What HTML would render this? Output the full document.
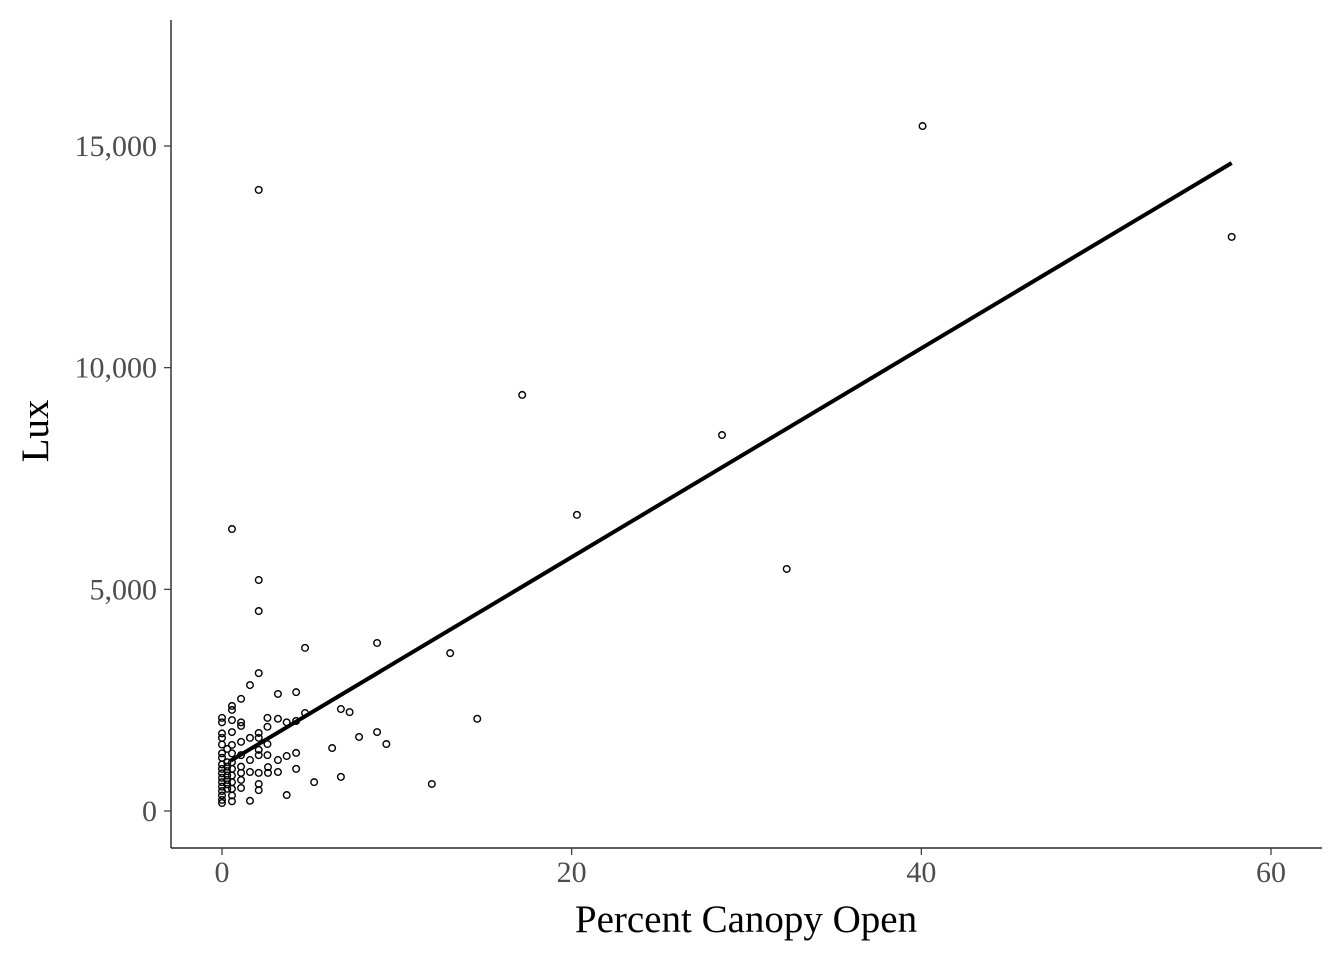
<!DOCTYPE html>
<html><head><meta charset="utf-8"><style>
body{margin:0;background:#fff;}
svg{display:block;font-family:"Liberation Serif",serif;}
</style></head><body>
<svg id="chart" width="1344" height="960" xmlns="http://www.w3.org/2000/svg"></svg>
<script>
const xValues=[2.1,40.07,57.75,17.17,28.6,20.3,32.3,0.57,2.1,2.1,4.75,8.87,13.05,14.6,12.0,2.1,1.6,1.09,3.2,4.24,4.75,6.8,7.3,7.84,8.87,9.4,6.3,4.24,3.7,4.24,6.8,5.27,3.7,3.2,3.2,2.63,2.63,2.6,2.6,2.1,2.1,2.6,2.6,3.2,3.7,4.24,2.1,2.1,2.1,2.1,2.1,1.6,1.6,1.6,1.6,1.09,1.09,1.09,1.09,1.09,1.09,1.09,1.09,0.57,0.57,0.57,0.57,0.57,0.57,0.57,0.57,0.57,0.57,0.57,0.57,0.57,0,0,0,0,0,0,0,0,0,0,0,0,0,0,0,0,0,0.3,0.3,0.3,0.3,0.3,0.3,0.3,0.3];
const yValues=[14010,15450,12950,9385,8480,6680,5460,6360,5210,4510,3680,3790,3560,2080,610,3110,2840,2530,2640,2680,2210,2300,2230,1670,1780,1510,1420,1310,1240,950,770,650,360,880,1150,990,860,1260,1510,1760,1650,1900,2100,2080,2000,2030,1380,1260,860,610,470,230,880,1150,1650,2000,1920,1560,1260,1000,860,700,520,2370,2280,2050,1780,1490,1300,1100,950,800,650,500,350,220,2100,2000,1750,1650,1500,1300,1200,1050,950,850,750,650,550,450,350,250,180,800,700,600,900,1000,1100,1400,500];
const xTicks=[0,20,40,60];
const yTicks=[0,5000,10000,15000];
const yTickLabels=["0","5,000","10,000","15,000"];
const fitIntercept=1017, fitSlope=235.5, fitRange=[0.5,57.75];

const NS="http://www.w3.org/2000/svg";
const svg=document.getElementById('chart');
const sx=v=>222+v*(1271-222)/60;
const sy=v=>811-v*(811-146)/15000;
function mk(tag,attrs,text){const e=document.createElementNS(NS,tag);for(const k in attrs)e.setAttribute(k,attrs[k]);if(text!==undefined)e.textContent=text;svg.appendChild(e);return e;}

let e=mk('line',{x1:171,y1:20,x2:171,y2:848,stroke:'#000','stroke-width':1.2});


e=mk('line',{x1:171,y1:848,x2:1322,y2:848,stroke:'#000','stroke-width':1.2});



xTicks.forEach(t=>{
  let l=mk('line',{x1:sx(t),y1:848,x2:sx(t),y2:855,stroke:'#333','stroke-width':1.2});
  
  
  let tx=mk('text',{x:sx(t),y:882,'text-anchor':'middle','font-size':30,fill:'#4d4d4d'},String(t));
  
  
});
yTicks.forEach((t,i)=>{
  let l=mk('line',{x1:164,y1:sy(t),x2:171,y2:sy(t),stroke:'#333','stroke-width':1.2});
  
  
  let tx=mk('text',{x:157,y:sy(t)+10,'text-anchor':'end','font-size':30,fill:'#4d4d4d'},yTickLabels[i]);
  
  
});
const n=Math.min(xValues.length,yValues.length);
for(let i=0;i<n;i++){
  let c=mk('circle',{cx:sx(xValues[i]),cy:sy(yValues[i]),r:3.3,fill:'none',stroke:'#000','stroke-width':1.4});
  
  
}
e=mk('line',{x1:sx(fitRange[0]),y1:sy(fitIntercept+fitSlope*fitRange[0]),x2:sx(fitRange[1]),y2:sy(fitIntercept+fitSlope*fitRange[1]),stroke:'#000','stroke-width':4});


e=mk('text',{x:746,y:932,'text-anchor':'middle','font-size':39,fill:'#000'},'Percent Canopy Open');


e=mk('text',{x:0,y:0,'text-anchor':'middle','font-size':39,fill:'#000',transform:'translate(48,431) rotate(-90)'},'Lux');


</script>
</body></html>
